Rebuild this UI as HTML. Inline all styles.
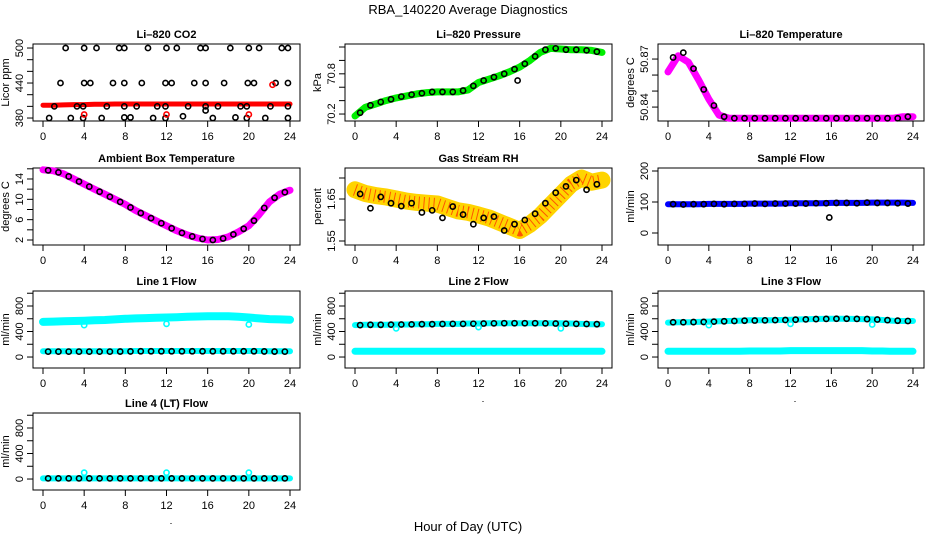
<!DOCTYPE html>
<html><head><meta charset="utf-8">
<style>
html,body{margin:0;padding:0;background:#fff;}
svg{display:block;font-family:"Liberation Sans",sans-serif;}
</style></head>
<body>
<svg id="c" width="936" height="540" viewBox="0 0 936 540" xmlns="http://www.w3.org/2000/svg">
<rect x="0" y="0" width="936" height="540" fill="#fff"/>
<text x="468" y="14" text-anchor="middle" font-size="13">RBA_140220  Average Diagnostics</text>
<text x="468" y="531" text-anchor="middle" font-size="13">Hour of Day (UTC)</text>
</svg>
<script>
// ---- data arrays ----
const xTicks = [0,4,8,12,16,20,24];
const hrs = [0,1,2,3,4,5,6,7,8,9,10,11,12,13,14,15,16,17,18,19,20,21,22,23,24];
const halfHrs = [0.5,1.5,2.5,3.5,4.5,5.5,6.5,7.5,8.5,9.5,10.5,11.5,12.5,13.5,14.5,15.5,16.5,17.5,18.5,19.5,20.5,21.5,22.5,23.5];

// CO2
const co2Red = [402,402,402.5,403,403,403.5,403.5,404,404,404,404,404,404,404,404,404,404,404,404,404,404,404,404,404,404];
const co2BlackX = [2.2,4,5.2,7.4,7.9,10.2,12,13,15.3,15.8,18.2,20,21,23.2,23.8, 1.7,4,4.6,6.8,7.9,9.6,11.9,12.5,14.7,15.8,17.6,19.9,20.5,22.6,23.8, 1.1,3.3,3.9,6.2,7.9,9.1,11.1,11.9,14.1,15.8,17,19.2,19.8,22.1,23.8, 0.6,2.7,3.9,5.7,7.9,8.5,10.7,11.9,13.6,16.5,18.7,19.8,21.6,23.8,15.8];
const co2BlackY = [500,500,500,500,500,500,500,500,500,500,500,500,500,500,500, 440,440,440,440,440,440,440,440,440,440,440,440,440,440,440, 400,400,400,400,400,400,400,400,400,400,400,400,400,400,400, 380,380,380,380,381,381,380,380,383,380,381,380,380,380,393];
const co2OutX = [4,12,20,22.3];
const co2OutY = [386,386,386,437];

// Pressure
const presGreen = [70.17,70.30,70.35,70.40,70.44,70.47,70.50,70.52,70.53,70.53,70.53,70.56,70.67,70.72,70.77,70.83,70.90,71.00,71.12,71.18,71.17,71.16,71.16,71.15,71.12];
const presBlack = [70.22,70.33,70.38,70.42,70.46,70.49,70.51,70.53,70.53,70.53,70.55,70.62,70.70,70.75,70.80,70.87,70.95,71.06,71.16,71.18,71.16,71.16,71.15,71.13];
const presOutX = [15.8];
const presOutY = [70.70];

// Li-820 temperature
const tempMag = [50.862,50.872,50.868,50.857,50.845,50.835,50.833,50.833,50.833,50.833,50.833,50.833,50.833,50.833,50.833,50.833,50.833,50.833,50.833,50.833,50.833,50.833,50.833,50.834,50.834];
const tempBlack = [50.871,50.874,50.864,50.851,50.841,50.834,50.833,50.833,50.833,50.833,50.833,50.833,50.833,50.833,50.833,50.833,50.833,50.833,50.833,50.833,50.833,50.833,50.833,50.834];

// Ambient box temperature
const ambMag = [15.8,15.6,15.0,14.0,13.0,12.0,11.0,10.0,9.0,7.8,6.8,5.8,4.8,3.8,3.0,2.4,2.0,2.1,2.6,3.6,4.8,7.0,9.5,11.0,11.8];
const ambBlack = [15.7,15.3,14.5,13.5,12.5,11.5,10.5,9.5,8.4,7.3,6.3,5.3,4.3,3.4,2.7,2.2,2.0,2.3,3.1,4.2,5.8,8.3,10.3,11.4];

// Gas stream RH
const rhBand = [1.672,1.663,1.658,1.655,1.650,1.645,1.642,1.640,1.638,1.630,1.622,1.618,1.612,1.605,1.595,1.585,1.575,1.590,1.610,1.635,1.660,1.685,1.700,1.690,1.695];
const rhBlack = [1.662,1.628,1.655,1.640,1.633,1.640,1.618,1.623,1.605,1.632,1.613,1.590,1.605,1.608,1.575,1.590,1.600,1.615,1.640,1.665,1.680,1.695,1.672,1.685];

// Sample flow
const sampBlue = [93,93,93,93,94,94,94,94,95,95,95,95,96,96,96,96,97,97,97,97,98,98,98,98,97];
const sampBlack = [93,92,93,93,94,93,94,94,95,94,95,95,95,95,96,96,97,97,96,98,97,97,96,95];
const sampOutX = [15.8];
const sampOutY = [50];

// Line flows
const l1Top = [550,555,560,565,570,575,580,590,600,605,610,615,620,625,630,635,640,640,638,630,620,605,595,590,585];
const l1Bot = [90,90,90,90,90,90,90,90,92,95,95,95,95,95,95,95,95,95,95,95,95,95,92,90,90];
const l1Black = [85,85,85,85,85,85,85,86,88,90,90,90,90,90,90,90,90,90,90,90,90,88,86,85];
const l1OutY = [500,520,510];
const l2Top = [500,505,505,505,510,510,515,515,520,520,520,525,525,530,530,530,530,530,530,530,530,525,520,515,515];
const l2Bot = [90,90,90,90,90,90,90,90,90,90,90,90,90,90,90,90,90,90,90,90,90,90,90,90,90];
const l2Black = [500,505,505,508,510,512,515,515,518,520,520,522,525,528,530,530,530,530,528,525,522,520,518,515];
const l2OutY = [450,470,450];
const l3Top = [540,545,545,550,555,560,565,570,575,575,578,580,585,590,595,598,600,600,598,595,590,580,570,565,565];
const l3Bot = [90,90,90,90,90,90,90,90,95,95,95,95,100,100,100,100,100,100,100,100,95,95,90,90,90];
const l3Black = [545,545,548,550,555,560,565,570,572,575,578,580,585,590,595,598,600,600,598,595,588,578,570,565];
const l3OutY = [500,520,510];
const l4Cyan = [10,10,10,10,10,10,10,10,10,10,10,10,10,10,10,10,10,10,10,10,10,10,10,10,10];
const l4Black = [10,10,10,10,10,10,10,10,10,10,10,10,10,10,10,10,10,10,10,10,10,10,10,10];
const l4OutY = [100,100,100];
const outHrs = [4,12,20];

// ---- layout ----
const svg = document.getElementById('c');
const NS = 'http://www.w3.org/2000/svg';
const cols = [{L:33,R:300,x0:43,x24:290},{L:345,R:612,x0:355,x24:602},{L:658,R:924,x0:668,x24:913}];
const rows = [44,168,291,413];
const H = 77;

function mk(tag, attrs, parent){
  const e = document.createElementNS(NS, tag);
  for (const k in attrs) e.setAttribute(k, attrs[k]);
  (parent||svg).appendChild(e);
  return e;
}

function panel(ci, ri, name, title, ylab, ymin, ymax, ticks, labels){
  const c = cols[ci], top = rows[ri], bot = top + H;
  const g = mk('g', {});
  
  
  const sx = v => c.x0 + (v/24)*(c.x24 - c.x0);
  const sy = v => top + (ymax - v)/(ymax - ymin)*H;
  const box = mk('rect', {x:c.L, y:top, width:c.R-c.L, height:H, fill:'none', stroke:'#000', 'stroke-width':1}, g);
  
  
  const t = mk('text', {x:(c.L+c.R)/2, y:top-6, 'text-anchor':'middle', 'font-size':11, 'font-weight':'bold'}, g);
  t.textContent = title;
  
  
  const xa = mk('g', {}, g);
  
  
  mk('line', {x1:sx(0), x2:sx(24), y1:bot, y2:bot, stroke:'#000'}, xa);
  xTicks.forEach(v => {
    mk('line', {x1:sx(v), x2:sx(v), y1:bot, y2:bot+6, stroke:'#000'}, xa);
    const tl = mk('text', {x:sx(v), y:bot+19, 'text-anchor':'middle', 'font-size':11}, xa);
    tl.textContent = v;
    
    
  });
  const dot = mk('rect', {x:sx(12)+4, y:bot+33, width:1, height:1, fill:'#000'}, xa);
  
  
  const ya = mk('g', {}, g);
  
  
  mk('line', {x1:c.L, x2:c.L, y1:sy(ticks[0]), y2:sy(ticks[ticks.length-1]), stroke:'#000'}, ya);
  ticks.forEach((v,i) => {
    mk('line', {x1:c.L-6, x2:c.L, y1:sy(v), y2:sy(v), stroke:'#000'}, ya);
    if (labels[i] !== '') {
      const yl = mk('text', {x:0, y:0, 'text-anchor':'middle', 'font-size':11, transform:`translate(${c.L-10},${sy(v)}) rotate(-90)`}, ya);
      yl.textContent = labels[i];
      
      
    }
  });
  const yt = mk('text', {x:0, y:0, 'text-anchor':'middle', 'font-size':11, transform:`translate(${c.L-24},${(top+bot)/2}) rotate(-90)`}, g);
  yt.textContent = ylab;
  
  
  return {g, sx, sy};
}

function band(p, name, xs, ys, color, w){
  const pts = xs.map((x,i) => p.sx(x).toFixed(1) + ',' + p.sy(ys[i]).toFixed(1)).join(' ');
  const pl = mk('polyline', {points:pts, fill:'none', stroke:color, 'stroke-width':w, 'stroke-linejoin':'round', 'stroke-linecap':'round'}, p.g);
  
  
  return pl;
}
function pts(p, name, xs, ys, color, r, sw){
  const g = mk('g', {}, p.g);
  
  
  xs.forEach((x,i) => {
    const c = mk('circle', {cx:p.sx(x), cy:p.sy(ys[i]), r:r||2.6, fill:'none', stroke:color, 'stroke-width':sw||1.6}, g);
    
    
  });
}

let p = panel(0,0,'co2','Li\u2013820 CO2','Licor ppm',374.9,506.9,[380,400,420,440,460,480,500],['380','','','440','','','500']);
band(p,'co2-red-band',hrs,co2Red,'#f00',5);
pts(p,'co2-black-points',co2BlackX,co2BlackY,'#000');
pts(p,'co2-red-outliers',co2OutX,co2OutY,'#f00');

p = panel(1,0,'pressure','Li\u2013820 Pressure','kPa',70.096,71.245,[70.2,70.4,70.6,70.8,71.0,71.2],['70.2','','','70.8','','']);
band(p,'pressure-green-band',hrs,presGreen,'#0e0',7);
pts(p,'pressure-black-points',halfHrs,presBlack,'#000');
pts(p,'pressure-outlier',presOutX,presOutY,'#000');

p = panel(2,0,'li820-temp','Li\u2013820 Temperature','degrees C',50.8313,50.8794,[50.84,50.85,50.86,50.87],['50.84','','','50.87']);
band(p,'temp-magenta-band',hrs,tempMag,'#f0f',7);
pts(p,'temp-black-points',halfHrs,tempBlack,'#000');

p = panel(0,1,'ambient','Ambient Box Temperature','degrees C',1.016,16.16,[2,4,6,8,10,12,14,16],['2','','6','','10','','14','']);
band(p,'ambient-magenta-band',hrs,ambMag,'#f0f',7);
pts(p,'ambient-black-points',halfHrs,ambBlack,'#000');

p = panel(1,1,'gas-rh','Gas Stream RH','percent',1.5405,1.7238,[1.55,1.60,1.65,1.70],['1.55','','1.65','']);
band(p,'rh-yellow-band',hrs,rhBand,'#ffd400',17);
const rd = band(p,'rh-red-speckle',hrs,rhBand,'#f00',12);
rd.setAttribute('stroke-dasharray','1 4');
rd.setAttribute('stroke-linecap','butt');
rd.setAttribute('opacity','0.6');
pts(p,'rh-black-points',halfHrs,rhBlack,'#000');

p = panel(2,1,'sample-flow','Sample Flow','ml/min',-38.7,209.7,[0,100,200],['0','100','200']);
band(p,'sample-blue-band',hrs,sampBlue,'#00f',6);
pts(p,'sample-black-points',halfHrs,sampBlack,'#000');
pts(p,'sample-outlier',sampOutX,sampOutY,'#000');

const lt = [0,200,400,600,800,1000], ll = ['0','','400','','800',''];
p = panel(0,2,'line1-flow','Line 1 Flow','ml/min',-172,1035,lt,ll);
band(p,'line1-cyan-top',hrs,l1Top,'#0ff',8);
band(p,'line1-cyan-bottom',hrs,l1Bot,'#0ff',6);
pts(p,'line1-black-points',halfHrs,l1Black,'#000');
pts(p,'line1-cyan-outliers',outHrs,l1OutY,'#0ff');

p = panel(1,2,'line2-flow','Line 2 Flow','ml/min',-172,1035,lt,ll);
band(p,'line2-cyan-top',hrs,l2Top,'#0ff',6);
band(p,'line2-cyan-bottom',hrs,l2Bot,'#0ff',7);
pts(p,'line2-black-points',halfHrs,l2Black,'#000');
pts(p,'line2-cyan-outliers',outHrs,l2OutY,'#0ff');

p = panel(2,2,'line3-flow','Line 3 Flow','ml/min',-172,1035,lt,ll);
band(p,'line3-cyan-top',hrs,l3Top,'#0ff',6);
band(p,'line3-cyan-bottom',hrs,l3Bot,'#0ff',7);
pts(p,'line3-black-points',halfHrs,l3Black,'#000');
pts(p,'line3-cyan-outliers',outHrs,l3OutY,'#0ff');

p = panel(0,3,'line4-flow','Line 4 (LT) Flow','ml/min',-172,1035,lt,ll);
band(p,'line4-cyan-band',hrs,l4Cyan,'#0ff',6);
pts(p,'line4-black-points',halfHrs,l4Black,'#000');
pts(p,'line4-cyan-outliers',outHrs,l4OutY,'#0ff');
</script>
</body></html>
